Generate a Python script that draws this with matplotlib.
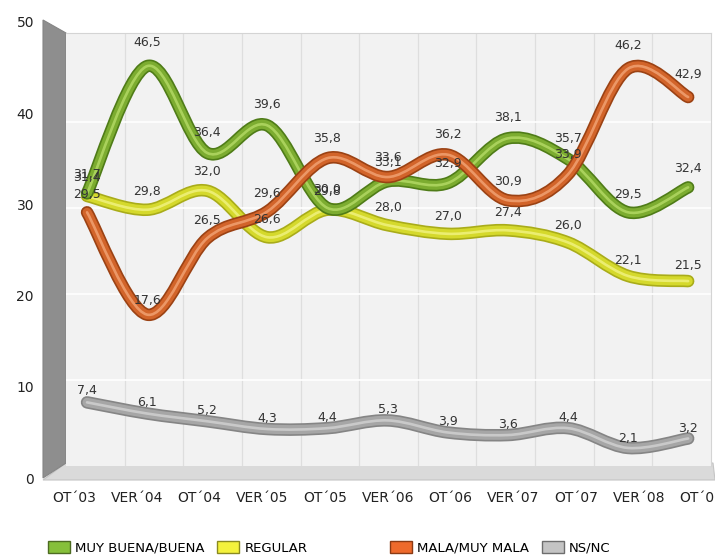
import numpy as np
import matplotlib
matplotlib.use('Agg')
import matplotlib.pyplot as plt
from matplotlib.path import Path
from matplotlib.patches import PathPatch, Polygon, Patch

# data
periods = ['OT´03', 'VER´04', 'OT´04', 'VER´05', 'OT´05', 'VER´06',
           'OT´06', 'VER´07', 'OT´07', 'VER´08', 'OT´08']
muy_buena = [31.7, 46.5, 36.4, 39.6, 30.0, 33.1, 32.9, 38.1, 35.7, 29.5, 32.4]
regular = [31.4, 29.8, 32.0, 26.6, 29.8, 28.0, 27.0, 27.4, 26.0, 22.1, 21.5]
mala = [29.5, 17.6, 26.5, 29.6, 35.8, 33.6, 36.2, 30.9, 33.9, 46.2, 42.9]
ns_nc = [7.4, 6.1, 5.2, 4.3, 4.4, 5.3, 3.9, 3.6, 4.4, 2.1, 3.2]

W, H = 715, 560


def rect(x0, y0, x1, y1):
    return [x0 / W, 1 - y1 / H, (x1 - x0) / W, (y1 - y0) / H]


def smooth_path(xs, ys):
    # Catmull-Rom through the points, drawn as cubic Bezier segments
    pts = np.column_stack([xs, ys]).astype(float)
    n = len(pts)
    verts = [pts[0]]
    codes = [Path.MOVETO]
    for k in range(n - 1):
        p0 = pts[max(k - 1, 0)]
        p1 = pts[k]
        p2 = pts[k + 1]
        p3 = pts[min(k + 2, n - 1)]
        verts += [p1 + (p2 - p0) / 6, p2 - (p3 - p1) / 6, p2]
        codes += [Path.CURVE4] * 3
    return Path(verts, codes)


fig = plt.figure(figsize=(7.15, 5.6), dpi=100)

# 3D-ish wall and floor
bg = fig.add_axes([0, 0, 1, 1])
bg.set_xlim(0, W)
bg.set_ylim(H, 0)
bg.axis('off')
bg.add_patch(Polygon([(66, 463), (713, 463), (715, 480), (43, 480)],
                     closed=True, fc='#dadada', ec='#c4c4c4', lw=0.8))
bg.add_patch(Polygon([(43, 20), (66, 33), (66, 463), (43, 478)],
                     closed=True, fc='#8e8e8e', ec='#858585', lw=0.8))

# back plane where the series live
ax = fig.add_axes(rect(66, 33, 711, 466), zorder=1)
ax.set_facecolor('#f2f2f2')
ax.set_xlim(-0.35, 10.38)
ax.set_ylim(0, 50.35)
ax.set_xticks(np.linspace(-0.35, 10.38, 12)[1:-1])
ax.set_yticks([10, 20, 30, 40])
ax.grid(axis='x', color='#dedede', lw=0.9)
ax.grid(axis='y', color='#ffffff', lw=1.2)
ax.tick_params(length=0, labelbottom=False, labelleft=False)
for side in ['left', 'bottom']:
    ax.spines[side].set_visible(False)
for side in ['top', 'right']:
    ax.spines[side].set_color('#d4d4d4')

x = np.arange(len(periods))
series = [
    (ns_nc, '#a6a6a6', '#858585', '#d2d2d2'),
    (regular, '#d5d92c', '#a9ac1a', '#f1f383'),
    (muy_buena, '#7cac30', '#4f7c18', '#b5db66'),
    (mala, '#d2642a', '#9b4214', '#f2a476'),
]
for vals, main, edge, light in series:
    path = smooth_path(x, vals)
    for lw, col, a in [(9, edge, 1), (6.6, main, 1), (1.9, light, 0.8)]:
        ax.add_patch(PathPatch(path, fill=False, ec=col, lw=lw, alpha=a,
                               capstyle='round', joinstyle='round', zorder=3))

for vals, *_ in series:
    for i, v in enumerate(vals):
        ax.annotate(f'{v:.1f}'.replace('.', ','), xy=(i, v),
                    xytext=(0, (9.3 + 0.3 * v) * 0.72), textcoords='offset points',
                    ha='center', va='center', fontsize=9, color='#333333',
                    annotation_clip=False, zorder=6)

# front plane: only the tick labels
fax = fig.add_axes(rect(43, 22, 715, 478), zorder=3)
fax.patch.set_visible(False)
for s in fax.spines.values():
    s.set_visible(False)
fax.set_xlim(-0.494, 10.215)
fax.set_ylim(0, 50)
fax.set_xticks(x)
fax.set_xticklabels(periods)
fax.set_yticks(range(0, 51, 10))
fax.tick_params(axis='x', length=0, pad=9, labelsize=10, labelcolor='#222222')
fax.tick_params(axis='y', length=0, pad=6.5, labelsize=10, labelcolor='#222222')

# legend, two groups
leg_kw = dict(ncol=2, frameon=False, fontsize=9.5, handlelength=1.65,
              handleheight=1.0, handletextpad=0.38, columnspacing=1.0,
              borderpad=0, borderaxespad=0, loc='center left')
fig.legend(handles=[Patch(fc='#86c03a', ec='#4d6b22', label='MUY BUENA/BUENA'),
                    Patch(fc='#f4f23c', ec='#8a8a20', label='REGULAR')],
           bbox_to_anchor=(48 / W, 1 - 548 / H), **leg_kw)
fig.legend(handles=[Patch(fc='#ee6a2c', ec='#8a3a14', label='MALA/MUY MALA'),
                    Patch(fc='#c4c4c4', ec='#6e6e6e', label='NS/NC')],
           bbox_to_anchor=(390 / W, 1 - 548 / H), **leg_kw)

fig.savefig('out.png', dpi=100)
